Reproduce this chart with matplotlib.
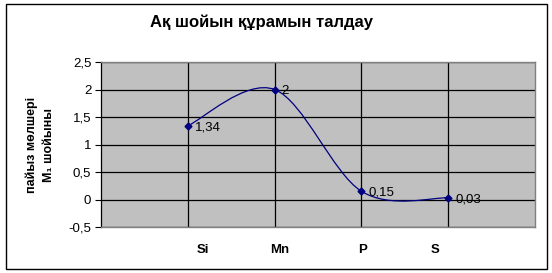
import matplotlib
matplotlib.use("Agg")
import matplotlib.pyplot as plt
import numpy as np
from matplotlib.path import Path
from matplotlib.patches import PathPatch, Rectangle

plt.rcParams['font.family'] = ['Liberation Sans', 'DejaVu Sans']

title = "Ақ шойын құрамын талдау"
ylabel = "пайыз мөлшері\nM₁ шойыны"
categories = ["Si", "Mn", "P", "S"]
values = [1.34, 2.0, 0.15, 0.03]
value_labels = ["1,34", "2", "0,15", "0,03"]
yticks = [-0.5, 0, 0.5, 1, 1.5, 2, 2.5]
ytick_labels = ["-0,5", "0", "0,5", "1", "1,5", "2", "2,5"]

line_color = "#000080"


def smooth_path(x, y):
    # Catmull-Rom style bezier, like Excel's smoothed line
    pts = np.column_stack([x, y])
    verts = [pts[0]]
    codes = [Path.MOVETO]
    n = len(pts)
    for i in range(n - 1):
        p0 = pts[i - 1] if i > 0 else pts[i]
        p1 = pts[i]
        p2 = pts[i + 1]
        p3 = pts[i + 2] if i + 2 < n else pts[i + 1]
        c1 = p1 + (p2 - p0) / 6
        c2 = p2 - (p3 - p1) / 6
        verts += [c1, c2, p2]
        codes += [Path.CURVE4] * 3
    return Path(verts, codes)


fig = plt.figure(figsize=(5.52, 2.73), dpi=100)
fig.patches.append(Rectangle((6 / 552, 4 / 273), 541 / 552, 265 / 273,
                             transform=fig.transFigure, fill=False,
                             edgecolor="black", linewidth=1.0))

ax = fig.add_axes([101 / 552, 46 / 273, 434 / 552, 165 / 273])
ax.set_facecolor("#C0C0C0")

x = np.arange(1, len(categories) + 1)
ax.add_patch(PathPatch(smooth_path(x, values), fill=False,
                       edgecolor=line_color, linewidth=0.9, zorder=3))
ax.plot(x, values, linestyle="none", marker="D", markersize=3.5,
        color=line_color, zorder=4)

for xi, v, lab in zip(x, values, value_labels):
    ax.annotate(lab, (xi, v), xytext=(5, -1), textcoords="offset points",
                ha="left", va="center", fontsize=9.5, zorder=5)

ax.set_xlim(0, len(categories) + 1)
ax.set_ylim(-0.5, 2.5)

ax.set_yticks(yticks)
ax.set_yticklabels(ytick_labels, fontsize=9.5)
ax.tick_params(axis="y", direction="out", length=4, width=0.8, pad=3)

# gridlines on the categories, labels drawn slightly off them as in the original
ax.set_xticks(x)
ax.set_xticklabels([])
ax.set_xticks(x + np.array([0.17, 0.06, 0.01, -0.15]), minor=True)
ax.set_xticklabels(categories, minor=True, fontsize=9.5, fontweight="bold")
ax.tick_params(axis="x", which="both", length=0, pad=12)

ax.grid(True, color="black", linewidth=0.9)
ax.set_axisbelow(True)

for side in ["top", "right", "bottom"]:
    ax.spines[side].set_color("#808080")
    ax.spines[side].set_linewidth(1.0)
ax.spines["left"].set_color("black")
ax.spines["left"].set_linewidth(0.9)

fig.text(262 / 552, 1 - 22 / 273, title, ha="center", va="center",
         fontsize=12, fontweight="bold")
fig.text(40 / 552, 1 - 145 / 273, ylabel, ha="center", va="center",
         rotation=90, fontsize=9, fontweight="bold", linespacing=1.6,
         multialignment="center")

fig.savefig("out.png", dpi=100)
